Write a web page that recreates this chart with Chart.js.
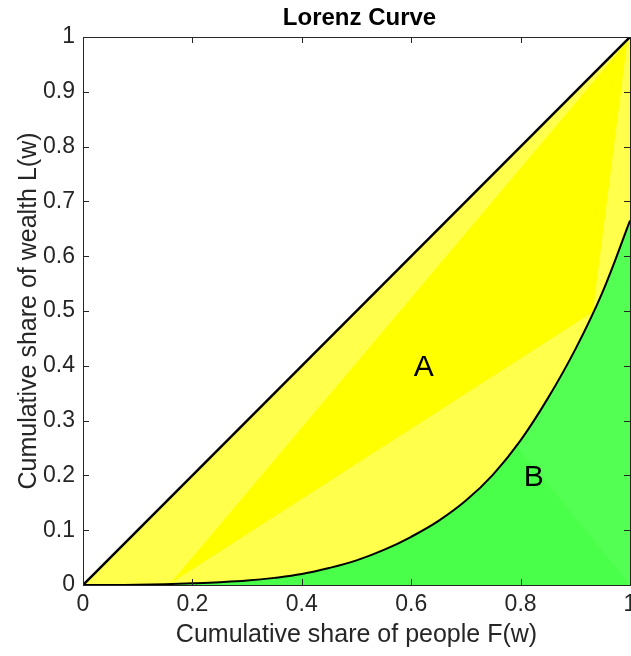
<!DOCTYPE html>
<html>
<head>
<meta charset="utf-8">
<script src="https://cdn.jsdelivr.net/npm/chart.js@4.4.1/dist/chart.umd.min.js"></script>
<style>
  html, body { margin: 0; padding: 0; background: #fff; overflow: hidden; }
  #wrap { width: 680px; height: 656px; }
</style>
</head>
<body>
<div id="wrap"><canvas id="lorenzChart" width="680" height="656"></canvas></div>
<script>
// Lorenz curve values
const shareF = [0, 0.05, 0.1, 0.15, 0.2, 0.25, 0.3, 0.35, 0.4, 0.45, 0.5, 0.55, 0.6, 0.65, 0.7, 0.75, 0.8, 0.85, 0.9, 0.95, 1];
const shareL = [0, 0, 0.0005, 0.0015, 0.003, 0.005, 0.008, 0.013, 0.02, 0.031, 0.045, 0.064, 0.088, 0.117, 0.154, 0.202, 0.264, 0.341, 0.43, 0.535, 0.665];

// line of equality
const equalF = [0, 1];
const equalL = [0, 1];

// darker yellow wedge inside area A (patch overlap)
const wedgeF = [0.16, 0.995, 0.932, 0.16];
const wedgeL = [0.003, 0.992, 0.498, 0.003];

// lighter green triangle in the right of area B (cut by the curve)
const paleF = [0.79, 1, 1, 0.79];
const paleL = [0.257, 0.7, 0, 0.257];

const xTicks = [0, 0.2, 0.4, 0.6, 0.8, 1];
const yTicks = [0, 0.1, 0.2, 0.3, 0.4, 0.5, 0.6, 0.7, 0.8, 0.9, 1];

const areaLabels = ['A', 'B'];
const areaLabelF = [0.623, 0.824];
const areaLabelL = [0.396, 0.195];

const pts = (xs, ys) => xs.map((v, i) => ({ x: v, y: ys[i] }));
const curvePts = pts(shareF, shareL);
const equalPts = pts(equalF, equalL);

const font = '"Liberation Sans", Arial, Helvetica, sans-serif';
const txt = '#262626';
const tickText = v => String(+v.toFixed(2));

// title over the axes, inward ticks, box and the A / B labels
const frameAndLabels = {
    id: 'frameAndLabels',
    afterDatasetsDraw(chart) {
        const { ctx, chartArea: a, scales: { x, y } } = chart;
        ctx.save();
        ctx.fillStyle = '#000';
        ctx.textAlign = 'center';
        ctx.textBaseline = 'middle';
        ctx.font = 'bold 24px ' + font;
        ctx.fillText('Lorenz Curve', (a.left + a.right) / 2 + 3, 18);

        ctx.font = '30px ' + font;
        areaLabels.forEach((t, i) => {
            ctx.fillText(t, x.getPixelForValue(areaLabelF[i]), y.getPixelForValue(areaLabelL[i]));
        });

        ctx.strokeStyle = txt;
        ctx.lineWidth = 1;
        ctx.beginPath();
        xTicks.forEach(v => {
            const px = Math.round(x.getPixelForValue(v)) + 0.5;
            ctx.moveTo(px, a.bottom); ctx.lineTo(px, a.bottom - 6);
            ctx.moveTo(px, a.top); ctx.lineTo(px, a.top + 6);
        });
        yTicks.forEach(v => {
            const py = Math.round(y.getPixelForValue(v)) + 0.5;
            ctx.moveTo(a.left, py); ctx.lineTo(a.left + 6, py);
            ctx.moveTo(a.right, py); ctx.lineTo(a.right - 6, py);
        });
        ctx.stroke();
        ctx.strokeRect(Math.round(a.left) + 0.5, Math.round(a.top) + 0.5,
            Math.round(a.right - a.left), Math.round(a.bottom - a.top));
        ctx.restore();
    }
};

const ctx = document.getElementById('lorenzChart').getContext('2d');
new Chart(ctx, {
    type: 'line',
    data: {
        datasets: [
            {
                label: 'Area B',
                data: curvePts,
                borderWidth: 0,
                backgroundColor: '#49ff49',
                fill: 'origin',
                tension: 0.4,
                pointRadius: 0,
                order: 9
            },
            {
                label: 'Area B light',
                data: pts(paleF, paleL),
                borderWidth: 0,
                backgroundColor: '#53ff53',
                fill: 'shape',
                pointRadius: 0,
                order: 8
            },
            {
                label: 'Area A',
                data: equalPts,
                borderWidth: 0,
                backgroundColor: '#ffff4c',
                fill: 0,
                pointRadius: 0,
                order: 7
            },
            {
                label: 'Overlap',
                data: pts(wedgeF, wedgeL),
                borderWidth: 0,
                backgroundColor: '#ffff00',
                fill: 'shape',
                pointRadius: 0,
                order: 6
            },
            {
                label: 'Lorenz curve',
                data: curvePts,
                borderColor: '#000',
                borderWidth: 2,
                fill: false,
                tension: 0.4,
                pointRadius: 0,
                order: 2
            },
            {
                label: 'Equality',
                data: equalPts,
                borderColor: '#000',
                borderWidth: 2.5,
                fill: false,
                pointRadius: 0,
                order: 1
            }
        ]
    },
    options: {
        responsive: false,
        animation: false,
        layout: { padding: { left: 0, right: 50, top: 37, bottom: 0 } },
        plugins: {
            legend: { display: false },
            tooltip: { enabled: false },
            title: { display: false }
        },
        scales: {
            x: {
                type: 'linear',
                min: 0,
                max: 1,
                afterBuildTicks: s => { s.ticks = xTicks.map(v => ({ value: v })); },
                afterFit: s => { s.height = 71; s.paddingLeft = 0; s.paddingRight = 0; },
                grid: { display: false, drawTicks: false },
                border: { display: false },
                ticks: { color: txt, padding: 6, maxRotation: 0, callback: tickText, font: { family: font, size: 23 } },
                title: {
                    display: true,
                    text: 'Cumulative share of people F(w)',
                    color: txt,
                    font: { family: font, size: 25 },
                    padding: { top: 0, bottom: 6 }
                }
            },
            y: {
                min: 0,
                max: 1,
                afterBuildTicks: s => { s.ticks = yTicks.map(v => ({ value: v })); },
                afterFit: s => { s.width = 83; s.paddingTop = 0; s.paddingBottom = 0; },
                grid: { display: false, drawTicks: false },
                border: { display: false },
                ticks: { color: txt, padding: 8, callback: tickText, font: { family: font, size: 23 } },
                title: {
                    display: true,
                    text: 'Cumulative share of wealth L(w)',
                    color: txt,
                    font: { family: font, size: 25 },
                    padding: { top: 14, bottom: 0 }
                }
            }
        }
    },
    plugins: [frameAndLabels]
});
</script>
</body>
</html>
